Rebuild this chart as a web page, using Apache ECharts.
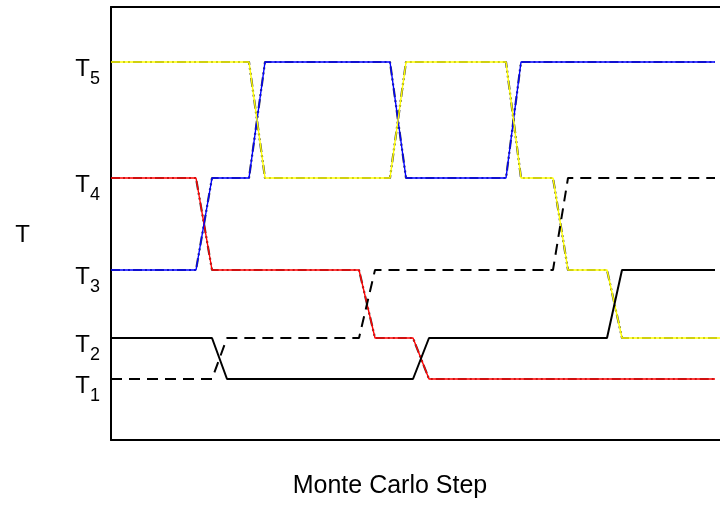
<!DOCTYPE html>
<html>
<head>
<meta charset="utf-8">
<script src="https://cdn.jsdelivr.net/npm/echarts@6/dist/echarts.min.js"></script>
<style>html,body{margin:0;padding:0;background:#fff;}#c{width:720px;height:512px;}</style>
</head>
<body>
<div id="c"></div>
<script>
// Temperature levels (position on the T axis), T1..T5
const tempNames = ['1', '2', '3', '4', '5'];
const tempLevels = [61, 102, 170, 262, 378];

// Replica trajectories: Monte Carlo step and temperature index (0 = T1)
const solidSteps   = [0, 101, 116, 302, 318, 496, 511, 604];
const solidTemps   = [1, 1, 0, 0, 1, 1, 2, 2];
const dashedSteps  = [0, 101, 116, 248, 264, 442, 457, 604];
const dashedTemps  = [0, 0, 1, 1, 2, 2, 3, 3];
const redSteps     = [0, 85, 101, 248, 264, 302, 318, 604];
const redTemps     = [3, 3, 2, 2, 1, 1, 0, 0];
const blueSteps    = [0, 85, 101, 138, 154, 279, 295, 395, 410, 604];
const blueTemps    = [2, 2, 3, 3, 4, 4, 3, 3, 4, 4];
const yellowSteps  = [0, 138, 154, 279, 295, 395, 410, 442, 457, 496, 511, 609];
const yellowTemps  = [4, 4, 3, 3, 4, 4, 3, 3, 2, 2, 1, 1];

function pts(steps, temps) { return steps.map((s, i) => [s, tempLevels[temps[i]]]); }

const font = 'Liberation Sans';
const chart = echarts.init(document.getElementById('c'));

function colored(steps, temps, color) {
  return [
    { type: 'line', data: pts(steps, temps), symbol: 'none', silent: true,
      lineStyle: { color: '#000', width: 2.2, type: [9, 3, 2, 3, 2, 3], opacity: 0.75 }, z: 2 },
    { type: 'line', data: pts(steps, temps), symbol: 'none', silent: true,
      lineStyle: { color: color, width: 1.4 }, z: 3 }
  ];
}

const frameLine = { show: true, onZero: false, lineStyle: { color: '#000', width: 2 } };

chart.setOption({
  animation: false,
  backgroundColor: '#fff',
  grid: { left: 111, top: 7, bottom: 72, right: 0, show: false },
  xAxis: [{
    type: 'value', min: 0, max: 609, position: 'bottom',
    name: 'Monte Carlo Step', nameLocation: 'middle', nameGap: 34,
    nameTextStyle: { fontFamily: font, fontSize: 25, color: '#000', padding: [0, 51, 0, 0] },
    axisLine: frameLine, axisTick: { show: false }, axisLabel: { show: false }, splitLine: { show: false }
  }, {
    type: 'value', min: 0, max: 609, position: 'top',
    axisLine: frameLine, axisTick: { show: false }, axisLabel: { show: false }, splitLine: { show: false }
  }],
  yAxis: {
    type: 'value', min: 0, max: 433,
    name: 'T', nameLocation: 'middle', nameRotate: 0, nameGap: 81,
    nameTextStyle: { fontFamily: font, fontSize: 24, color: '#000', verticalAlign: 'top' },
    axisLine: frameLine,
    axisTick: { show: false },
    splitLine: { show: false },
    axisLabel: {
      customValues: tempLevels,
      margin: 11,
      formatter: function (v) {
        const i = tempLevels.indexOf(v);
        return '{t|T}{s|' + tempNames[i] + '}';
      },
      rich: {
        t: { fontFamily: font, fontSize: 24, color: '#000', verticalAlign: 'top', lineHeight: 24 },
        s: { fontFamily: font, fontSize: 18, color: '#000', verticalAlign: 'top', lineHeight: 18, padding: [13, 0, 0, 0] }
      },
      padding: [14, 0, 0, 0]
    }
  },
  series: [
    ...colored(redSteps, redTemps, '#ff0000'),
    ...colored(blueSteps, blueTemps, '#0000ff'),
    ...colored(yellowSteps, yellowTemps, '#ffff00'),
    { type: 'line', data: pts(dashedSteps, dashedTemps), symbol: 'none', silent: true,
      lineStyle: { color: '#000', width: 2, type: [11, 7] }, z: 4 },
    { type: 'line', data: pts(solidSteps, solidTemps), symbol: 'none', silent: true,
      lineStyle: { color: '#000', width: 2 }, z: 4 }
  ]
});
</script>
</body>
</html>
